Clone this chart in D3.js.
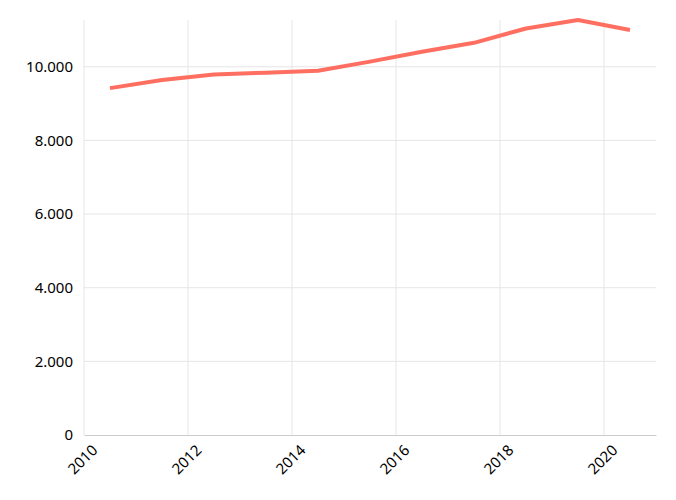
<!DOCTYPE html>
<html>
<head>
<meta charset="utf-8">
<script src="https://cdn.jsdelivr.net/npm/d3@7"></script>
<style>
  body { margin: 0; background: #fff; }
  .axis text { font-family: "Noto Sans", "Open Sans", sans-serif; font-size: 15px; fill: #000; }
</style>
</head>
<body>
<div id="chart"></div>
<script>
var WIDTH = 676;
var HEIGHT = 500;
var margin = {top: 20, right: 20, bottom: 65, left: 84};

var years = [2010.5, 2011.5, 2012.5, 2013.5, 2014.5, 2015.5, 2016.5, 2017.5, 2018.5, 2019.5, 2020.5];
var values = [9420, 9640, 9790, 9840, 9890, 10140, 10410, 10650, 11040, 11270, 11000];
var xTicks = [2010, 2012, 2014, 2016, 2018, 2020];
var yTicks = [0, 2000, 4000, 6000, 8000, 10000];

var w = WIDTH - margin.left - margin.right;
var h = HEIGHT - margin.top - margin.bottom;

var svg = d3.select("#chart").append("svg")
  .attr("width", WIDTH)
  .attr("height", HEIGHT);

var g = svg.append("g")
  .attr("transform", "translate(" + margin.left + "," + margin.top + ")");

var x = d3.scaleLinear().domain([2010, 2021]).range([0, w]);
var y = d3.scaleLinear().domain([0, d3.max(values)]).range([h, 0]);

var fmt = d3.formatLocale({decimal: ",", thousands: ".", grouping: [3], currency: ["", "€"]}).format(",d");

// grid
g.append("g")
  .selectAll("line.h")
  .data(yTicks.slice(1))
  .enter().append("line")
  .attr("x1", 0).attr("x2", w)
  .attr("y1", function(d) { return y(d); })
  .attr("y2", function(d) { return y(d); })
  .style("stroke", "#e6e6e6")
  .style("stroke-width", 1);

g.append("g")
  .selectAll("line.v")
  .data(xTicks)
  .enter().append("line")
  .attr("x1", function(d) { return x(d); })
  .attr("x2", function(d) { return x(d); })
  .attr("y1", 0).attr("y2", h)
  .style("stroke", "#e6e6e6")
  .style("stroke-width", 1);

// y axis
g.append("g")
  .attr("class", "axis")
  .call(d3.axisLeft(y).tickValues(yTicks).tickFormat(fmt).tickSize(0).tickPadding(11))
  .call(g => g.select(".domain").remove());

// x axis
g.append("g")
  .attr("class", "axis")
  .attr("transform", "translate(0," + h + ")")
  .call(d3.axisBottom(x).tickValues(xTicks).tickFormat(d3.format("d")).tickSize(0).tickPadding(10))
  .call(g => g.select(".domain").style("stroke", "#cccccc"))
  .selectAll("text")
  .style("text-anchor", "end")
  .attr("dx", "-0.1em")
  .attr("dy", "0.75em")
  .attr("transform", "rotate(-45)");

var line = d3.line()
  .x(function(d, i) { return x(years[i]); })
  .y(function(d) { return y(d); });

g.append("path")
  .attr("d", line(values))
  .style("fill", "none")
  .style("stroke", "#ff6f61")
  .style("stroke-width", 4)
  .style("stroke-linejoin", "round");
</script>
</body>
</html>
